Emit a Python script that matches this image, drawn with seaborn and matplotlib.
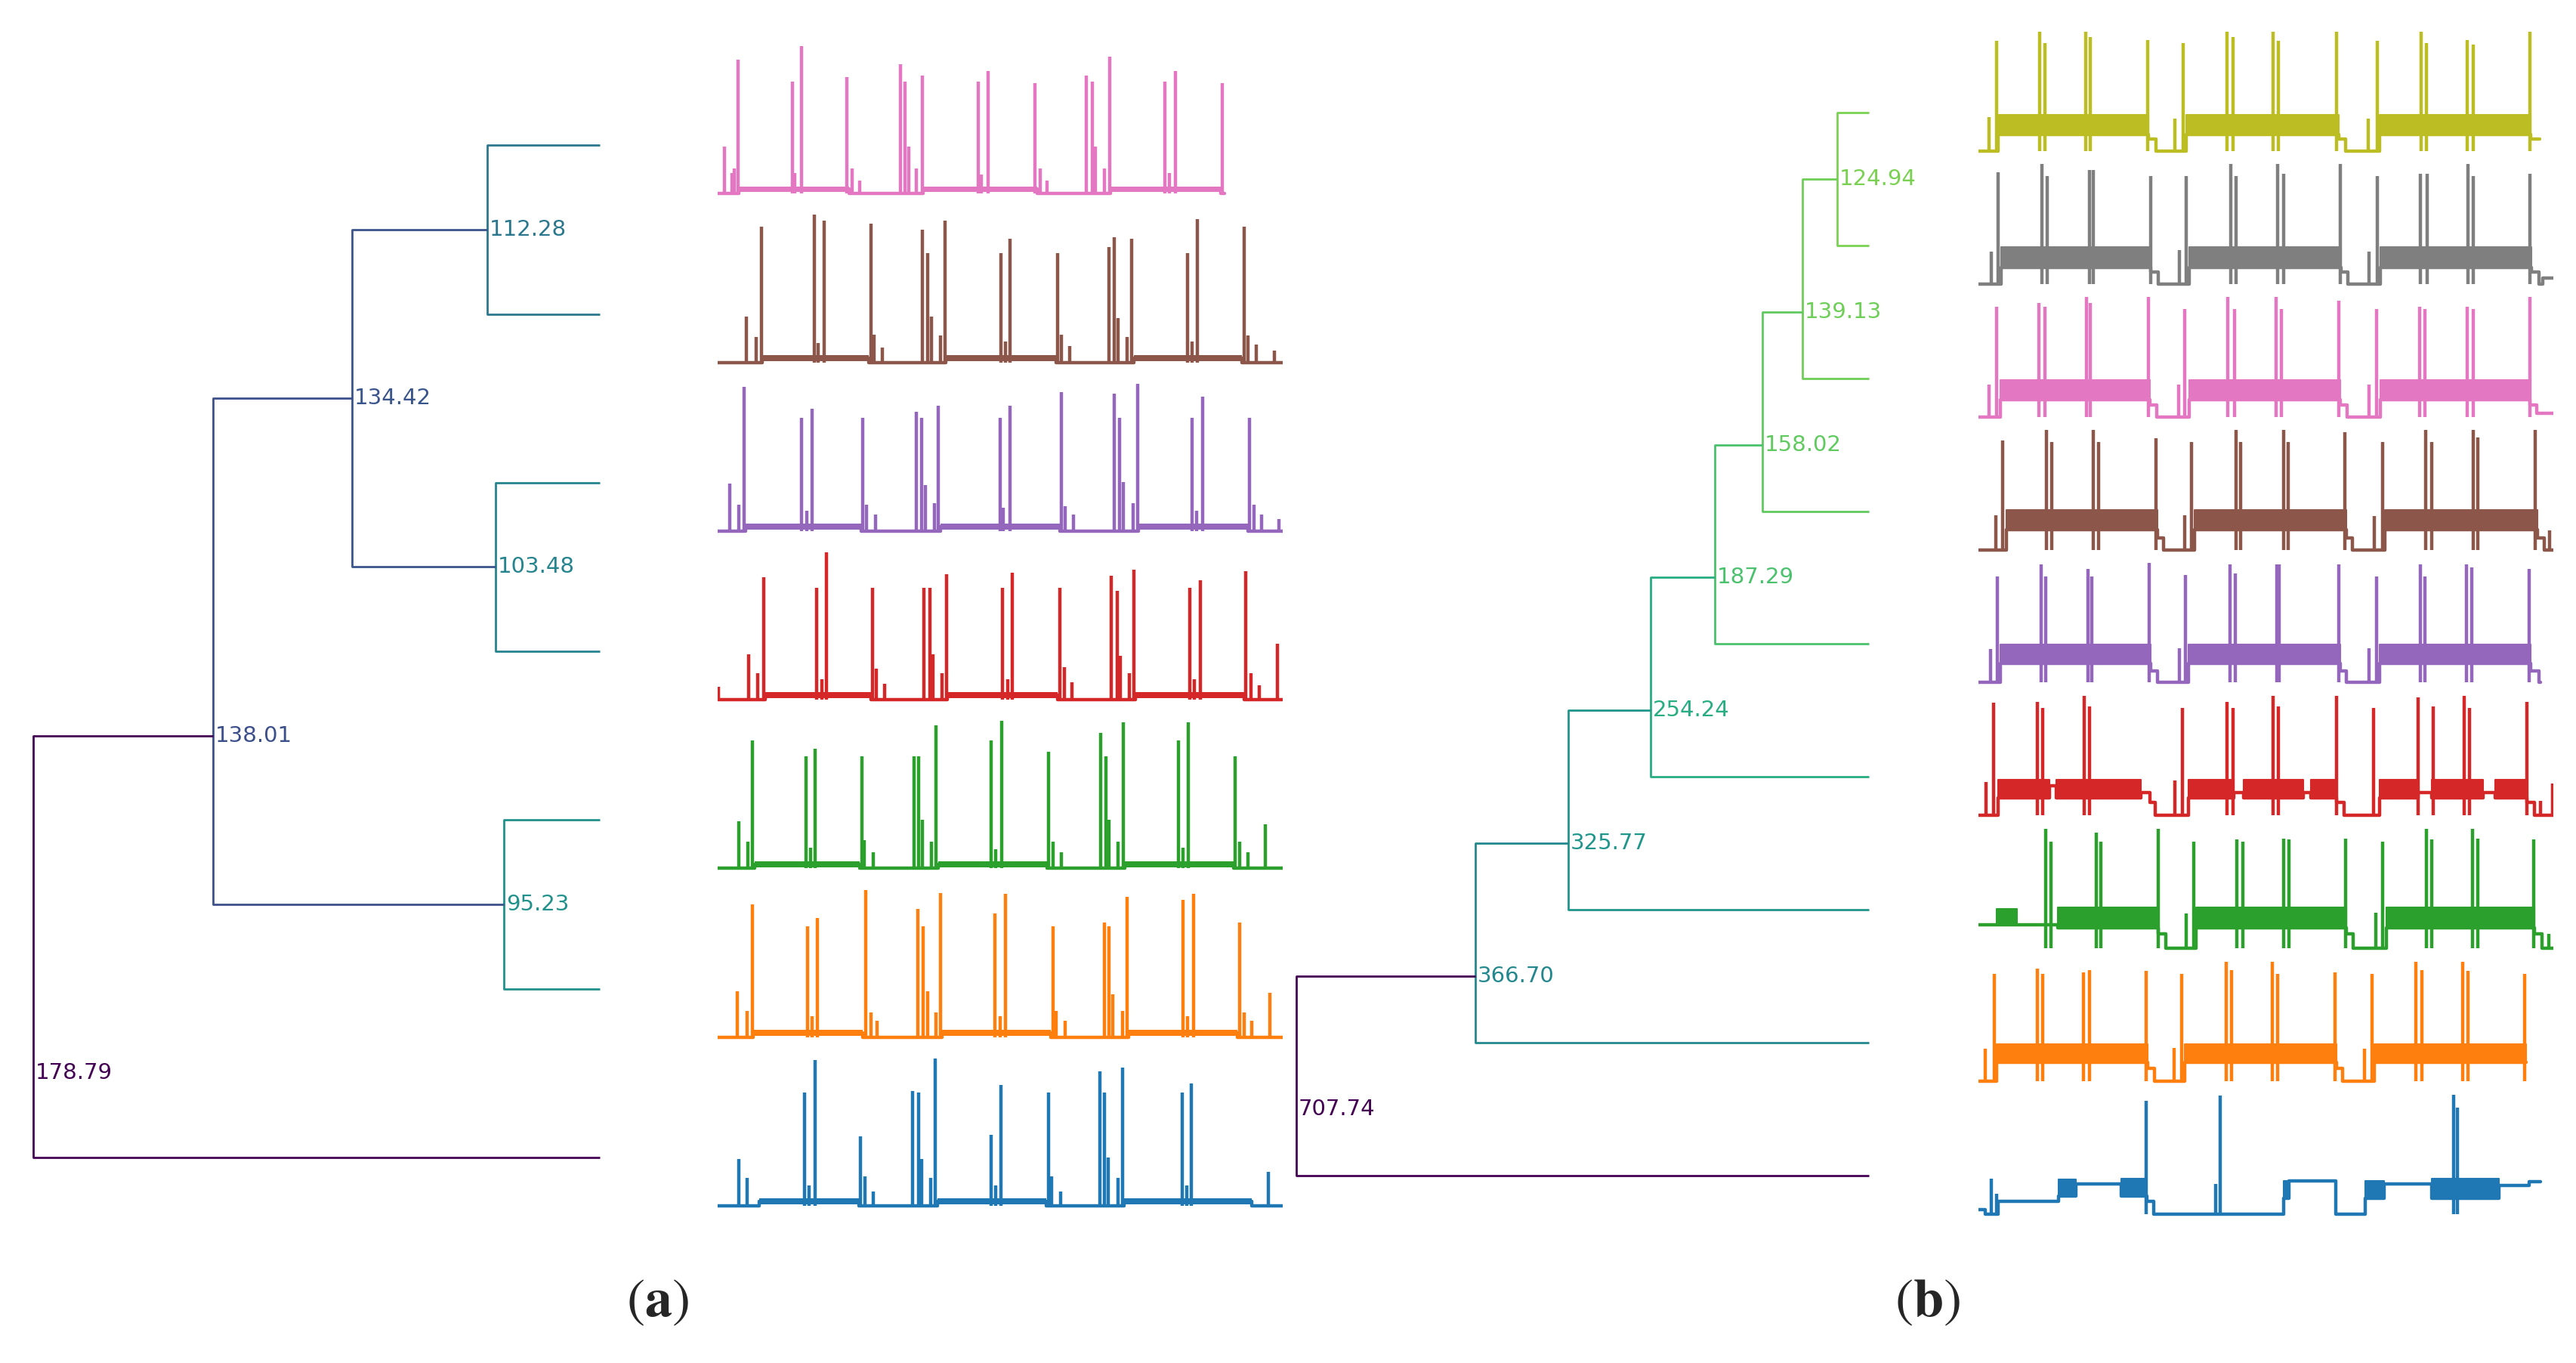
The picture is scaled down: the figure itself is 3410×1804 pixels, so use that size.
import matplotlib

matplotlib.use("Agg")
import matplotlib.pyplot as plt
import seaborn as sns

# ---------------------------------------------------------------------------
# Data: dendrograms (leaves numbered bottom -> top, merges in linkage order)
# ---------------------------------------------------------------------------
A_LEAVES = ["blue", "orange", "green", "red", "purple", "brown", "pink"]
A_HEIGHTS = [112.28, 103.48, 95.23, 134.42, 138.01, 178.79]
A_MERGES = [(6, 5), (4, 3), (2, 1), (7, 8), (10, 9), (11, 0)]

B_LEAVES = ["blue", "orange", "green", "red", "purple", "brown", "pink", "gray", "olive"]
B_HEIGHTS = [124.94, 139.13, 158.02, 187.29, 254.24, 325.77, 366.70, 707.74]
B_MERGES = [(8, 7), (9, 6), (10, 5), (11, 4), (12, 3), (13, 2), (14, 1), (15, 0)]

# ---------------------------------------------------------------------------
# Data: (a) traces, t in % of record, h normalised amplitude, plateaus (t0, t1)
# ---------------------------------------------------------------------------
A_PINK_END = 89.7
A_PINK_T = [1.2, 2.5, 2.9, 3.6, 13.2, 13.7, 14.8, 22.9, 23.8, 25.1, 32.3, 33.2, 33.8, 35.1, 36.2,
            46.1, 46.7, 47.9, 56.2, 57.1, 58.3, 65.3, 66.3, 66.9, 68.5, 69.4, 79.2, 80.0, 81.0, 89.3]
A_PINK_H = [0.32, 0.14, 0.17, 0.91, 0.76, 0.14, 1.0, 0.79, 0.17, 0.09, 0.88, 0.76, 0.32, 0.17, 0.80,
            0.76, 0.13, 0.83, 0.75, 0.17, 0.09, 0.80, 0.76, 0.32, 0.17, 0.93, 0.76, 0.14, 0.83, 0.75]
A_PINK_PLAT = [(3.8, 23.3), (36.3, 56.5), (69.5, 89.0)]

A_BROWN_END = 100
A_BROWN_T = [5.1, 6.8, 7.7, 17.1, 17.8, 18.8, 27.1, 27.7, 29.2, 36.2, 37.1, 37.8, 39.4, 40.2, 50.1, 51.0,
             51.8, 60.1, 60.8, 62.3, 69.3, 70.2, 70.9, 72.4, 73.3, 83.2, 84.0, 84.9, 93.2, 93.8, 95.3, 98.5]
A_BROWN_H = [0.31, 0.17, 0.92, 1.0, 0.13, 0.96, 0.94, 0.19, 0.10, 0.90, 0.74, 0.31, 0.18, 0.96, 0.74, 0.14,
             0.84, 0.74, 0.19, 0.11, 0.78, 0.85, 0.30, 0.17, 0.84, 0.74, 0.14, 0.97, 0.92, 0.18, 0.12, 0.08]
A_BROWN_PLAT = [(7.9, 26.7), (40.4, 59.9), (73.6, 92.8)]

A_PURPLE_END = 100
A_PURPLE_T = [2.2, 3.7, 4.7, 14.9, 15.8, 16.7, 25.7, 26.4, 27.9, 35.1, 36.1, 36.7, 38.4, 39.1, 50.0, 50.6,
              51.8, 60.8, 61.5, 63.0, 70.2, 71.1, 71.8, 73.5, 74.3, 84.0, 84.8, 85.8, 94.1, 94.9, 96.2, 99.3]
A_PURPLE_H = [0.32, 0.18, 0.98, 0.77, 0.14, 0.83, 0.77, 0.18, 0.11, 0.81, 0.77, 0.31, 0.19, 0.85, 0.77, 0.16,
              0.85, 0.94, 0.17, 0.11, 0.93, 0.77, 0.33, 0.19, 1.0, 0.77, 0.14, 0.91, 0.77, 0.18, 0.11, 0.08]
A_PURPLE_PLAT = [(5.0, 25.4), (39.4, 60.5), (74.5, 93.9)]

A_RED_END = 100
A_RED_T = [0.2, 5.5, 7.1, 8.1, 17.5, 18.4, 19.2, 27.4, 28.1, 29.5, 36.5, 37.5, 38.1, 39.7, 40.5, 50.4, 51.3,
           52.2, 60.5, 61.3, 62.7, 69.7, 70.7, 71.3, 72.9, 73.7, 83.5, 84.4, 85.4, 93.5, 94.4, 95.9, 99.0]
A_RED_H = [0.09, 0.31, 0.18, 0.83, 0.76, 0.14, 1.0, 0.76, 0.21, 0.11, 0.76, 0.76, 0.31, 0.18, 0.85, 0.76, 0.14,
           0.86, 0.76, 0.22, 0.12, 0.84, 0.74, 0.30, 0.18, 0.88, 0.76, 0.14, 0.81, 0.87, 0.18, 0.10, 0.38]
A_RED_PLAT = [(8.4, 27.1), (40.7, 60.1), (73.9, 93.2)]

A_GREEN_END = 100
A_GREEN_T = [3.7, 5.3, 6.2, 15.6, 16.4, 17.2, 25.5, 26.0, 27.6, 34.7, 35.6, 36.2, 37.9, 38.7, 48.4, 49.2,
             50.3, 58.5, 59.3, 60.8, 67.8, 68.7, 69.3, 70.9, 71.8, 81.5, 82.4, 83.3, 91.6, 92.4, 93.9, 96.9]
A_GREEN_H = [0.32, 0.18, 0.87, 0.76, 0.14, 0.81, 0.76, 0.19, 0.11, 0.76, 0.76, 0.33, 0.18, 0.97, 0.87, 0.13,
             1.0, 0.79, 0.18, 0.11, 0.92, 0.76, 0.33, 0.18, 0.99, 0.87, 0.14, 0.99, 0.76, 0.18, 0.11, 0.30]
A_GREEN_PLAT = [(6.5, 25.2), (39.1, 58.3), (72.1, 91.3)]

A_ORANGE_END = 100
A_ORANGE_T = [3.5, 5.2, 6.1, 15.9, 16.7, 17.6, 26.2, 27.1, 28.2, 35.4, 36.3, 37.1, 38.7, 39.5, 49.1, 50.0,
              50.9, 59.3, 59.9, 61.5, 68.5, 69.3, 69.9, 71.6, 72.4, 82.3, 83.2, 84.2, 92.4, 93.2, 94.5, 97.7]
A_ORANGE_H = [0.31, 0.18, 0.90, 0.75, 0.14, 0.81, 1.0, 0.17, 0.11, 0.87, 0.75, 0.31, 0.17, 0.98, 0.84, 0.14,
              0.97, 0.75, 0.18, 0.11, 0.78, 0.75, 0.29, 0.18, 0.95, 0.93, 0.14, 0.97, 0.78, 0.17, 0.11, 0.30]
A_ORANGE_PLAT = [(6.3, 25.7), (39.7, 59.0), (72.7, 92.0)]

A_BLUE_END = 100
A_BLUE_T = [3.7, 5.2, 15.4, 16.2, 17.2, 25.3, 26.1, 27.6, 34.5, 35.5, 36.1, 37.7, 38.5, 48.4, 49.2, 50.2,
            58.5, 59.1, 60.7, 67.6, 68.5, 69.1, 70.8, 71.6, 82.2, 83.0, 83.8, 97.5]
A_BLUE_H = [0.32, 0.19, 0.77, 0.14, 0.99, 0.47, 0.20, 0.10, 0.78, 0.77, 0.32, 0.19, 1.0, 0.48, 0.14, 0.82,
            0.77, 0.20, 0.10, 0.91, 0.77, 0.33, 0.19, 0.94, 0.77, 0.14, 0.83, 0.23]
A_BLUE_PLAT = [(7.3, 25.0), (38.9, 58.2), (71.9, 94.5)]

# ---------------------------------------------------------------------------
# Data: (b) traces, sample index, segments (s0, s1, low, high), spikes (s, h)
# ---------------------------------------------------------------------------
B_OLIVE_SEG = [(0, 50, 0, 0), (50, 430, 0.14, 0.30), (430, 448, 0.10, 0.10), (448, 525, 0, 0),
               (525, 910, 0.14, 0.30), (910, 927, 0.10, 0.10), (927, 1013, 0, 0),
               (1013, 1395, 0.14, 0.30), (1395, 1418, 0.10, 0.10)]
B_OLIVE_T = [27, 45, 155, 168, 270, 283, 427, 497, 518, 628, 643, 745, 758, 905, 985, 1007, 1118, 1132,
             1235, 1249, 1392]
B_OLIVE_H = [0.28, 0.92, 1.0, 0.90, 1.0, 0.95, 0.93, 0.27, 0.90, 1.0, 0.95, 1.0, 0.92, 1.0, 0.27, 0.92,
             1.0, 0.90, 0.93, 0.89, 1.0]

B_GRAY_SEG = [(0, 57, 0, 0), (57, 435, 0.14, 0.31), (435, 455, 0.10, 0.10), (455, 533, 0, 0),
              (533, 915, 0.14, 0.31), (915, 933, 0.10, 0.10), (933, 1015, 0, 0),
              (1015, 1397, 0.14, 0.31), (1397, 1415, 0.10, 0.10), (1415, 1425, 0, 0),
              (1425, 1452, 0.05, 0.05)]
B_GRAY_T = [32, 50, 160, 173, 280, 290, 435, 507, 525, 638, 651, 755, 770, 913, 987, 1008, 1117, 1133,
            1237, 1250, 1393]
B_GRAY_H = [0.27, 0.93, 1.0, 0.90, 0.95, 0.95, 0.90, 0.28, 0.90, 1.0, 0.90, 1.0, 0.92, 1.0, 0.27, 0.90,
            0.92, 0.92, 1.0, 0.90, 0.92]

B_PINK_SEG = [(0, 55, 0, 0), (55, 433, 0.14, 0.31), (433, 450, 0.10, 0.10), (450, 533, 0, 0),
              (533, 913, 0.14, 0.31), (913, 931, 0.10, 0.10), (931, 1015, 0, 0),
              (1015, 1393, 0.14, 0.31), (1393, 1410, 0.10, 0.10), (1410, 1452, 0.03, 0.03)]
B_PINK_T = [27, 45, 153, 168, 272, 283, 430, 505, 520, 630, 647, 752, 765, 910, 987, 1005, 1115, 1128,
            1235, 1250, 1392]
B_PINK_H = [0.27, 0.92, 0.95, 0.92, 1.0, 0.95, 1.0, 0.27, 0.90, 1.0, 0.90, 1.0, 0.90, 0.97, 0.27, 0.90,
            0.92, 0.90, 0.92, 0.90, 1.0]

B_BROWN_SEG = [(0, 70, 0, 0), (70, 453, 0.17, 0.33), (453, 467, 0.10, 0.10), (467, 545, 0, 0),
               (545, 930, 0.17, 0.33), (930, 945, 0.10, 0.10), (945, 1027, 0, 0),
               (1027, 1412, 0.17, 0.33), (1412, 1430, 0.10, 0.10), (1430, 1452, 0, 0)]
B_BROWN_T = [43, 62, 172, 185, 290, 303, 448, 520, 538, 650, 663, 770, 783, 925, 1000, 1020, 1130, 1145,
             1250, 1262, 1407, 1443]
B_BROWN_H = [0.29, 0.91, 1.0, 0.90, 1.0, 0.90, 0.93, 0.29, 0.90, 1.0, 0.90, 1.0, 0.90, 0.98, 0.28, 0.90,
             1.0, 0.90, 1.0, 0.94, 1.0, 0.16]

B_PURPLE_SEG = [(0, 55, 0, 0), (55, 435, 0.16, 0.32), (435, 452, 0.10, 0.10), (452, 530, 0, 0),
                (530, 913, 0.16, 0.32), (913, 930, 0.10, 0.10), (930, 1013, 0, 0),
                (1013, 1395, 0.16, 0.32), (1395, 1415, 0.10, 0.10), (1415, 1420, 0, 0)]
B_PURPLE_T = [30, 48, 158, 170, 276, 287, 432, 507, 523, 635, 648, 753, 760, 910, 987, 1005, 1117, 1128,
              1233, 1245, 1390]
B_PURPLE_H = [0.28, 0.89, 0.99, 0.89, 0.95, 0.89, 1.0, 0.29, 0.90, 0.99, 0.91, 0.99, 0.99, 0.99, 0.29,
              0.89, 0.99, 0.89, 0.99, 0.96, 0.95]

B_RED_SEG = [(0, 50, 0, 0), (50, 180, 0.15, 0.30), (180, 197, 0.25, 0.25), (197, 410, 0.15, 0.30),
             (410, 433, 0.19, 0.19), (433, 447, 0.11, 0.11), (447, 530, 0, 0), (530, 645, 0.15, 0.30),
             (645, 670, 0.19, 0.19), (670, 820, 0.15, 0.30), (820, 840, 0.19, 0.19),
             (840, 905, 0.15, 0.30), (905, 923, 0.11, 0.11), (923, 1013, 0, 0),
             (1013, 1110, 0.15, 0.30), (1110, 1145, 0.19, 0.19), (1145, 1275, 0.15, 0.30),
             (1275, 1305, 0.19, 0.19), (1305, 1385, 0.15, 0.30), (1385, 1405, 0.11, 0.11),
             (1405, 1452, 0, 0)]
B_RED_T = [20, 38, 148, 163, 268, 281, 497, 516, 628, 643, 745, 758, 905, 998, 1110, 1148, 1227, 1240,
           1385, 1420, 1450]
B_RED_H = [0.28, 0.94, 0.95, 0.90, 1.0, 0.91, 0.29, 0.90, 0.95, 0.90, 1.0, 0.91, 1.0, 0.90, 0.99, 0.91,
           1.0, 0.90, 0.95, 0.12, 0.27]

B_GREEN_SEG = [(0, 45, 0.20, 0.20), (45, 97, 0.20, 0.33), (97, 200, 0.20, 0.20), (200, 455, 0.17, 0.34),
               (455, 473, 0.12, 0.12), (473, 550, 0, 0), (550, 930, 0.17, 0.34), (930, 947, 0.12, 0.12),
               (947, 1030, 0, 0), (1030, 1405, 0.17, 0.34), (1405, 1423, 0.12, 0.12), (1423, 1452, 0, 0)]
B_GREEN_T = [170, 183, 298, 310, 455, 525, 543, 653, 668, 771, 785, 927, 1003, 1021, 1131, 1145, 1248,
             1261, 1403, 1440]
B_GREEN_H = [1.0, 0.89, 0.97, 0.89, 1.0, 0.29, 0.89, 0.91, 0.89, 0.92, 0.91, 0.92, 0.30, 0.89, 1.0, 0.91,
             1.0, 0.92, 0.91, 0.12]

B_ORANGE_SEG = [(0, 45, 0, 0), (45, 427, 0.16, 0.31), (427, 445, 0.11, 0.11), (445, 520, 0, 0),
                (520, 905, 0.16, 0.31), (905, 920, 0.11, 0.11), (920, 1000, 0, 0),
                (1000, 1383, 0.16, 0.31)]
B_ORANGE_T = [17, 40, 148, 163, 265, 280, 423, 495, 513, 625, 640, 743, 755, 900, 975, 995, 1105, 1120,
              1223, 1237, 1380]
B_ORANGE_H = [0.27, 0.90, 0.94, 0.90, 0.91, 0.93, 0.92, 0.28, 0.90, 1.0, 0.93, 1.0, 0.90, 0.91, 0.27,
              0.90, 1.0, 0.93, 1.0, 0.92, 0.90]

B_BLUE_SEG = [(0, 17, 0.04, 0.04), (17, 50, 0, 0), (50, 202, 0.11, 0.11), (202, 247, 0.15, 0.29),
              (247, 360, 0.25, 0.25), (360, 420, 0.15, 0.30), (420, 425, 0.15, 0.15),
              (425, 443, 0.11, 0.11), (443, 770, 0, 0), (770, 785, 0.13, 0.28), (785, 903, 0.28, 0.28),
              (903, 977, 0, 0), (977, 1025, 0.13, 0.28), (1025, 1145, 0.25, 0.25),
              (1145, 1315, 0.13, 0.30), (1315, 1390, 0.24, 0.24), (1390, 1420, 0.27, 0.27)]
B_BLUE_T = [33, 45, 423, 600, 610, 1200, 1210]
B_BLUE_H = [0.30, 0.17, 0.95, 0.25, 0.99, 1.0, 0.89]

A_TRACES = [  # bottom -> top, same order as A_LEAVES
    (A_BLUE_END, A_BLUE_T, A_BLUE_H, A_BLUE_PLAT),
    (A_ORANGE_END, A_ORANGE_T, A_ORANGE_H, A_ORANGE_PLAT),
    (A_GREEN_END, A_GREEN_T, A_GREEN_H, A_GREEN_PLAT),
    (A_RED_END, A_RED_T, A_RED_H, A_RED_PLAT),
    (A_PURPLE_END, A_PURPLE_T, A_PURPLE_H, A_PURPLE_PLAT),
    (A_BROWN_END, A_BROWN_T, A_BROWN_H, A_BROWN_PLAT),
    (A_PINK_END, A_PINK_T, A_PINK_H, A_PINK_PLAT),
]
B_TRACES = [  # bottom -> top, same order as B_LEAVES
    (B_BLUE_SEG, B_BLUE_T, B_BLUE_H),
    (B_ORANGE_SEG, B_ORANGE_T, B_ORANGE_H),
    (B_GREEN_SEG, B_GREEN_T, B_GREEN_H),
    (B_RED_SEG, B_RED_T, B_RED_H),
    (B_PURPLE_SEG, B_PURPLE_T, B_PURPLE_H),
    (B_BROWN_SEG, B_BROWN_T, B_BROWN_H),
    (B_PINK_SEG, B_PINK_T, B_PINK_H),
    (B_GRAY_SEG, B_GRAY_T, B_GRAY_H),
    (B_OLIVE_SEG, B_OLIVE_T, B_OLIVE_H),
]

# ---------------------------------------------------------------------------
# Layout (pixels of the 3410 x 1804 canvas)
# ---------------------------------------------------------------------------
W, H = 3410, 1804
TREE_LW = 2.0
TRACE_LW = 3.2


def add_axes(fig, x0, x1, xlim, leaf0_px, step_px, ylim):
    """Axes whose data y=v sits at leaf0_px - v*step_px (from top)."""
    top = leaf0_px - ylim[1] * step_px
    bot = leaf0_px - ylim[0] * step_px
    ax = fig.add_axes([x0 / W, 1 - bot / H, (x1 - x0) / W, (bot - top) / H])
    ax.set_xlim(xlim)
    ax.set_ylim(ylim)
    ax.set_axis_off()
    return ax


def tree_layout(heights, merges, n):
    x = {i: 0.0 for i in range(n)}
    y = {i: float(i) for i in range(n)}
    members = {i: [i] for i in range(n)}
    for k, (h, (a, b)) in enumerate(zip(heights, merges)):
        node = n + k
        x[node] = max(x[a], x[b]) + h
        la, lb = members[a], members[b]
        upper, lower = (la, lb) if min(la) > max(lb) else (lb, la)
        y[node] = (min(upper) + max(lower)) / 2
        members[node] = la + lb
    return x, y


def draw_tree(ax, heights, merges, n, cmax):
    x, y = tree_layout(heights, merges, n)
    cmap = plt.get_cmap("viridis")
    hmin, hmax = min(heights), max(heights)
    for k, (h, (a, b)) in enumerate(zip(heights, merges)):
        node = n + k
        col = cmap(cmax * (hmax - h) / (hmax - hmin))
        xn = x[node]
        ax.plot([x[a], xn, xn, x[b]], [y[a], y[a], y[b], y[b]], color=col, lw=TREE_LW,
                clip_on=False, solid_capstyle="butt")
        ax.annotate(f"{h:.2f}", (xn, y[node]), xytext=(2, 0), textcoords="offset points",
                    ha="left", va="center", fontsize=21, color=col)


def draw_a_traces(ax, off, amp):
    for row, (end, ts, hs, plats) in enumerate(A_TRACES):
        col = f"tab:{A_LEAVES[row]}"
        base = row - off
        px, py = [0.0], [0.0]
        for t0, t1 in plats:
            px += [t0, t0, t1, t1]
            py += [0.0, 0.03, 0.03, 0.0]
        px.append(end)
        py.append(0.0)
        sns.lineplot(x=px, y=[base + amp * v for v in py], sort=False, estimator=None,
                     color=col, lw=TRACE_LW, ax=ax, legend=False)
        for t0, t1 in plats:
            ax.fill_between([t0, t1], base + amp * 0.01, base + amp * 0.05, color=col, lw=0)
        ax.vlines(ts, base, [base + amp * h for h in hs], color=col, lw=TRACE_LW)


def draw_b_traces(ax, off, amp):
    for row, (segs, ts, hs) in enumerate(B_TRACES):
        col = f"tab:{B_LEAVES[row]}"
        base = row - off
        px, py = [], []
        for s0, s1, lo, hi in segs:
            px += [s0, s1]
            py += [lo, lo]
            if hi > lo:
                ax.fill_between([s0, s1], base + amp * lo, base + amp * hi, color=col, lw=1.5,
                                edgecolor=col)
        sns.lineplot(x=px, y=[base + amp * v for v in py], sort=False, estimator=None,
                     color=col, lw=TRACE_LW, ax=ax, legend=False)
        ax.vlines(ts, base, [base + amp * h for h in hs], color=col, lw=TRACE_LW)


def main():
    sns.set_style("white")
    plt.rcParams["font.family"] = ["DejaVu Sans"]
    plt.rcParams["mathtext.fontset"] = "stix"

    fig = plt.figure(figsize=(W / 100, H / 100), dpi=100)

    # (a) -------------------------------------------------------------
    na = len(A_LEAVES)
    xa, _ = tree_layout(A_HEIGHTS, A_MERGES, na)
    depth_a = max(xa.values())
    ax_ta = add_axes(fig, 44, 794, (depth_a, 0), 1532, 223.3, (-0.6, na - 0.2))
    draw_tree(ax_ta, A_HEIGHTS, A_MERGES, na, 0.5)

    ax_sa = add_axes(fig, 950, 1698, (0, 100), 1532, 223.3, (-0.6, na - 0.2))
    draw_a_traces(ax_sa, 0.287, 0.874)

    # (b) -------------------------------------------------------------
    nb = len(B_LEAVES)
    xb, _ = tree_layout(B_HEIGHTS, B_MERGES, nb)
    depth_b = max(xb.values())
    ax_tb = add_axes(fig, 1716, 2474, (depth_b, 0), 1556, 175.9, (-0.6, nb - 0.2))
    draw_tree(ax_tb, B_HEIGHTS, B_MERGES, nb, 0.8)

    ax_sb = add_axes(fig, 2619, 3380, (0, 1452), 1556, 175.9, (-0.6, nb - 0.2))
    draw_b_traces(ax_sb, 0.29, 0.90)

    fig.text(870 / W, 1 - 1723 / H, r"$(\mathbf{a})$", ha="center", va="center", fontsize=52)
    fig.text(2551 / W, 1 - 1723 / H, r"$(\mathbf{b})$", ha="center", va="center", fontsize=52)

    fig.savefig("out.png", dpi=100, facecolor="white")
    plt.close(fig)


if __name__ == "__main__":
    main()
